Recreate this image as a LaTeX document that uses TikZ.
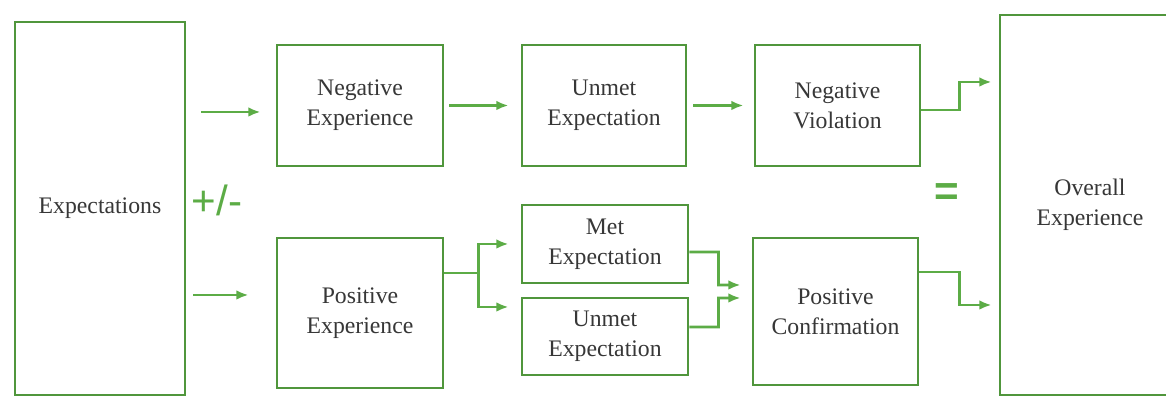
\documentclass[tikz,border=0pt]{standalone}
\usepackage{fontspec}
\setmainfont{Liberation Serif}
\newfontfamily\signfont{Liberation Sans}
\usepackage{xcolor}
\usetikzlibrary{arrows.meta, positioning, calc}
\definecolor{boxgreen}{RGB}{80,150,60}
\definecolor{arrowgreen}{RGB}{92,172,70}
\definecolor{textgray}{RGB}{55,55,55}

\begin{document}
\begin{tikzpicture}[
  font=\fontsize{13.5}{17}\selectfont,
  >={Latex[length=7pt,width=5.5pt]},
  every node/.style={align=center, text=textgray},
  box/.style={draw=boxgreen, line width=1.6pt, fill=white,
              minimum width=#1, inner sep=2pt},
  box/.default=3.3cm,
  arr/.style={->, draw=arrowgreen, line width=1.6pt},
  sign/.style={font=\signfont\fontsize{24}{26}\selectfont, text=arrowgreen},
]
\useasboundingbox (0,0) rectangle (23.32,7.92);

%% Left and right columns
\node[box=3.4cm, minimum height=7.46cm] (expect) at (2.0,3.75) {Expectations};
\node[box=3.6cm, minimum height=7.6cm] (overall) at (21.8,3.82)
  {Overall\\Experience};

%% Negative path (top row)
\node[box=3.32cm, minimum height=2.42cm] (negexp) at (7.2,5.81)
  {Negative\\Experience};
\node[box=3.28cm, minimum height=2.42cm] (unmettop) at (12.08,5.81)
  {Unmet\\Expectation};
\node[box=3.3cm, minimum height=2.42cm] (negviol) at (16.75,5.81)
  {Negative\\Violation};

%% Positive path (bottom row)
\node[box=3.32cm, minimum height=3.0cm] (posexp) at (7.2,1.66)
  {Positive\\Experience};
\node[box=3.32cm, minimum height=1.56cm] (met) at (12.1,3.04)
  {Met\\Expectation};
\node[box=3.32cm, minimum height=1.54cm] (unmetbot) at (12.1,1.19)
  {Unmet\\Expectation};
\node[box=3.3cm, minimum height=2.94cm] (posconf) at (16.71,1.69)
  {Positive\\Confirmation};

%% Signs
\node[sign] (pm) at (4.34,3.92) {+/-};
\node[sign, font=\signfont\bfseries\fontsize{24}{26}\selectfont] (eq) at (18.94,4.02) {=};

%% Arrows: into the two paths
\draw[arr] ($(expect.east |- negexp.west)+(0.3,-0.13)$)
  -- ($(negexp.west)+(-0.3,-0.13)$);
\draw[arr] ($(expect.east |- posexp.west)+(0.14,0.36)$)
  -- ($(posexp.west)+(-0.54,0.36)$);

%% Arrows: negative path
\draw[arr, shorten <=0.1cm, shorten >=0.24cm] (negexp) -- (unmettop);
\draw[arr, shorten <=0.12cm, shorten >=0.2cm] (unmettop) -- (negviol);
\draw[arr, shorten >=0.14cm] ($(negviol.east)+(0,-0.09)$) -- ++(0.76,0)
  |- ($(overall.west)+(0,2.46)$);

%% Arrows: positive path
\coordinate (split) at ($(posexp.east)+(0.68,0.8)$);
\draw[arrowgreen, line width=1.6pt] ($(posexp.east)+(0,0.8)$) -- (split);
\draw[arr, shorten >=0.24cm] (split) |- (met.west);
\draw[arr, shorten >=0.24cm] (split) |- ($(unmetbot.west)+(0,0.59)$);
\coordinate (join) at ($(met.east)+(0.58,0)$);
\draw[arr, shorten >=0.22cm] ($(met.east)+(0,-0.16)$) -| ($(join)+(0,-0.82)$)
  -- ($(posconf.west)+(0,0.53)$);
\draw[arr, shorten >=0.22cm] ($(unmetbot.east)+(0,0.19)$) -| ($(join)+(0,-1.08)$)
  -- ($(posconf.west)+(0,0.27)$);
\draw[arr, shorten >=0.14cm] ($(posconf.east)+(0,0.79)$) -- ++(0.8,0)
  |- ($(overall.west)+(0,-2.0)$);

\end{tikzpicture}
\end{document}
